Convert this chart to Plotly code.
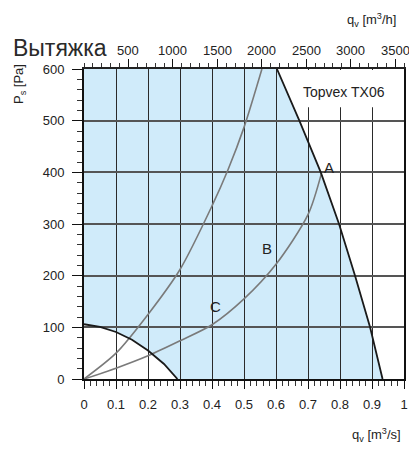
import plotly.graph_objects as go

# ---- data ----
# maximum fan curve (black, right boundary)
q_max = [0.603, 0.673, 0.740, 0.797, 0.847, 0.894, 0.933]
p_max = [600, 500, 400, 300, 200, 100, 0]
# minimum curve (black, lower-left boundary)
q_min = [0.0, 0.05, 0.10, 0.15, 0.20, 0.25, 0.292]
p_min = [106, 101, 91, 76, 55, 29, 0]
# steep system curve (gray)
q_sys1 = [0.0, 0.10, 0.20, 0.30, 0.40, 0.45, 0.50, 0.556]
p_sys1 = [0, 50, 125, 212, 335, 405, 487, 600]
# flat system curve (gray), ending at point A
q_sys2 = [0.0, 0.10, 0.20, 0.30, 0.40, 0.50, 0.60, 0.70, 0.742]
p_sys2 = [0, 21, 45, 74, 105, 155, 222, 318, 398]

x_ticks = [0, 0.1, 0.2, 0.3, 0.4, 0.5, 0.6, 0.7, 0.8, 0.9, 1.0]
x_ticktext = ["0", "0.1", "0.2", "0.3", "0.4", "0.5", "0.6", "0.7", "0.8", "0.9", "1"]
x2_ticks = [500, 1000, 1500, 2000, 2500, 3000, 3500]
y_ticks = [0, 100, 200, 300, 400, 500, 600]

labels = ["A", "B", "C"]
label_q = [0.766, 0.572, 0.41]
label_p = [410, 253, 140]
model_name = "Topvex TX06"
title_text = "Вытяжка"

# ---- geometry ----
W, H = 409, 450
L, R, T, B = 84, 5, 69, 71
PW, PH = W - L - R, H - T - B


def px(xp):
    return (xp - L) / PW


def py(yp):
    return (H - B - yp) / PH


FONT = "Liberation Sans, Arial, sans-serif"
BLUE = "#d0ebfa"
TXT = "#222222"

# fill region path (data coords)
pts = list(zip(q_min, p_min)) + list(zip(q_max[::-1], p_max[::-1])) + [(0, 600)]
path = "M " + " L ".join(f"{q},{p}" for q, p in pts) + " Z"

fig = go.Figure()

fig.add_trace(go.Scatter(x=q_sys1, y=p_sys1, mode="lines",
                         line=dict(color="#7a7a7a", width=1.6, shape="spline", smoothing=0.8),
                         hoverinfo="skip", showlegend=False))
fig.add_trace(go.Scatter(x=q_sys2, y=p_sys2, mode="lines",
                         line=dict(color="#7a7a7a", width=1.6, shape="spline", smoothing=0.8),
                         hoverinfo="skip", showlegend=False))
fig.add_trace(go.Scatter(x=q_min, y=p_min, mode="lines", line=dict(color="#1a1a1a", width=1.8),
                         hoverinfo="skip", showlegend=False))
fig.add_trace(go.Scatter(x=q_max, y=p_max, mode="lines", line=dict(color="#1a1a1a", width=1.8),
                         hoverinfo="skip", showlegend=False))
# invisible trace to activate the top (m3/h) axis
fig.add_trace(go.Scatter(x=[q * 3600 for q in q_max], y=p_max, xaxis="x2", mode="lines",
                         line=dict(color="rgba(0,0,0,0)"), hoverinfo="skip", showlegend=False))

fig.add_shape(type="path", path=path, xref="x", yref="y", fillcolor=BLUE, line=dict(width=0), layer="below")
# white box behind model name
fig.add_shape(type="rect", xref="x", yref="y", x0=0.672, x1=0.994, y0=526, y1=598,
              fillcolor="white", line=dict(width=0), layer="above")

for t, q, p in zip(labels, label_q, label_p):
    fig.add_annotation(x=q, y=p, xref="x", yref="y", text=t, showarrow=False,
                       font=dict(family=FONT, size=15, color=TXT))
fig.add_annotation(x=0.812, y=555, xref="x", yref="y", text=model_name, showarrow=False,
                   font=dict(family=FONT, size=14, color=TXT))

# top tick labels drawn as annotations on the m3/h axis (plotly hides the last one at the page edge)
for v in x2_ticks:
    fig.add_annotation(x=v, y=py(50), xref="x2", yref="paper", text=str(v),
                       showarrow=False, xanchor="center", yanchor="middle",
                       font=dict(family=FONT, size=13, color=TXT))

fig.add_annotation(x=px(11), y=py(48), xref="paper", yref="paper", text=title_text, showarrow=False,
                   xanchor="left", yanchor="middle", font=dict(family=FONT, size=23, color="#2a2a2a"))
fig.add_annotation(x=px(20), y=py(84), xref="paper", yref="paper", text="P<sub>s</sub> [Pa]", showarrow=False,
                   textangle=-90, xanchor="center", yanchor="middle", font=dict(family=FONT, size=13, color=TXT))
fig.add_annotation(x=px(371), y=py(20), xref="paper", yref="paper", text="q<sub>v</sub> [m<sup>3</sup>/h]",
                   showarrow=False, xanchor="center", yanchor="middle", font=dict(family=FONT, size=13, color=TXT))
fig.add_annotation(x=px(376), y=py(435), xref="paper", yref="paper", text="q<sub>v</sub> [m<sup>3</sup>/s]",
                   showarrow=False, xanchor="center", yanchor="middle", font=dict(family=FONT, size=13, color=TXT))

fig.update_layout(
    width=W, height=H,
    margin=dict(l=L, r=R, t=T, b=B, pad=0, autoexpand=False),
    paper_bgcolor="white", plot_bgcolor="white",
    font=dict(family=FONT, size=13, color=TXT),
    xaxis=dict(range=[0, 1], tickvals=x_ticks, ticktext=x_ticktext, showgrid=True, gridcolor="#2a2a2a",
               gridwidth=1.3, zeroline=False, showline=True, linecolor="#111111", linewidth=2,
               ticks="outside", ticklen=8, tickwidth=1.2, tickcolor="#111111", automargin=False,
               ticklabeloverflow="allow",
               minor=dict(dtick=0.02, tick0=0, ticks="outside", ticklen=5, tickwidth=1, tickcolor="#333333"),
               tickfont=dict(size=13, color=TXT), ticklabelstandoff=4),
    xaxis2=dict(range=[0, 3600], overlaying="x", side="top", anchor="y", tickvals=x2_ticks,
                showticklabels=False,
                showgrid=False, zeroline=False, showline=True, linecolor="#222222", linewidth=1.5,
                ticks="outside", ticklen=8, tickwidth=1.2, tickcolor="#111111", automargin=False,
                minor=dict(dtick=100, tick0=0, ticks="outside", ticklen=4, tickwidth=1, tickcolor="#333333")),
    yaxis=dict(range=[0, 600], tickvals=y_ticks, showgrid=True, gridcolor="#555555", gridwidth=1.5,
               zeroline=False, showline=True, linecolor="#111111", linewidth=2, mirror=True,
               ticks="outside", ticklen=10, tickwidth=1.2, tickcolor="#111111", automargin=False,
               minor=dict(dtick=20, tick0=0, ticks="outside", ticklen=5, tickwidth=1, tickcolor="#333333"),
               tickfont=dict(size=13, color=TXT), ticklabelstandoff=5),
)

fig.write_html("out.html", config={"displayModeBar": False},
               post_script="document.body.style.margin='0';document.body.style.padding='0';")
